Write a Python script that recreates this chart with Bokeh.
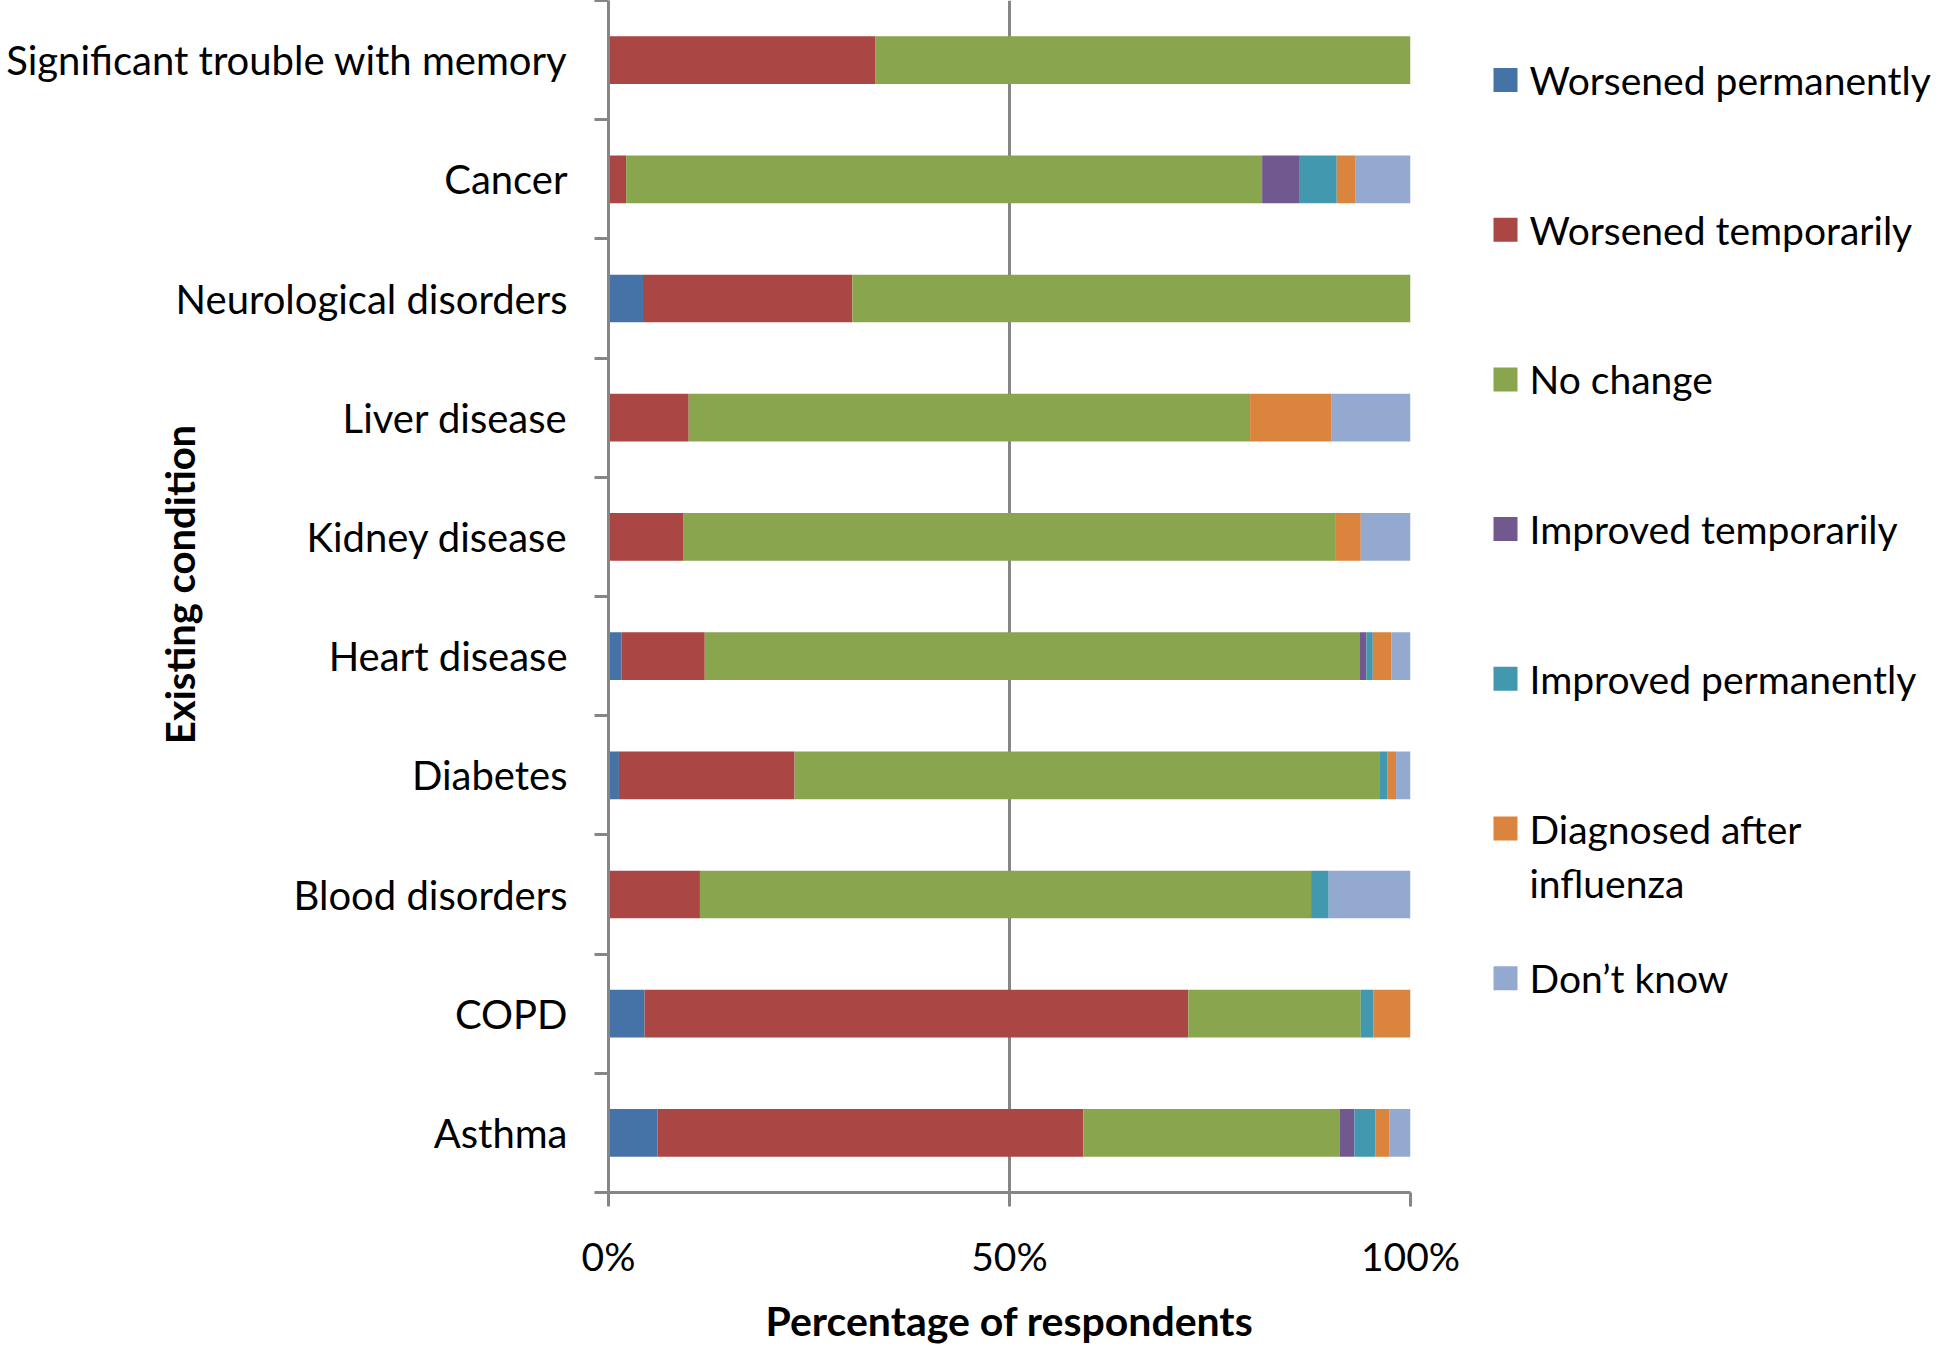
import math
from bokeh.plotting import figure
from bokeh.models import ColumnDataSource, Range1d, FixedTicker
from bokeh.layouts import row
from bokeh.core.properties import value
from bokeh.embed import file_html
from bokeh.resources import INLINE

# ---------------- data (top to bottom as shown) ----------------
conditions = ["Significant trouble with memory", "Cancer", "Neurological disorders",
              "Liver disease", "Kidney disease", "Heart disease", "Diabetes",
              "Blood disorders", "COPD", "Asthma"]

series_names = ["Worsened permanently", "Worsened temporarily", "No change",
                "Improved temporarily", "Improved permanently",
                "Diagnosed after\ninfluenza", "Don\u2019t know"]

worsened_perm = [0.0, 0.0, 4.3, 0.0, 0.0, 1.6, 1.3, 0.0, 4.5, 6.1]
worsened_temp = [33.3, 2.2, 26.1, 10.0, 9.3, 10.4, 21.9, 11.4, 67.8, 53.1]
no_change     = [66.7, 79.3, 69.6, 70.0, 81.3, 81.7, 73.0, 76.2, 21.5, 32.0]
improved_temp = [0.0, 4.6, 0.0, 0.0, 0.0, 0.8, 0.0, 0.0, 0.0, 1.8]
improved_perm = [0.0, 4.7, 0.0, 0.0, 0.0, 0.8, 0.9, 2.2, 1.6, 2.6]
diagnosed     = [0.0, 2.3, 0.0, 10.1, 3.2, 2.3, 1.1, 0.0, 4.6, 1.8]
dont_know     = [0.0, 6.9, 0.0, 9.9, 6.2, 2.4, 1.8, 10.2, 0.0, 2.6]

x_ticks = [0, 50, 100]
x_tick_labels = ["0%", "50%", "100%"]

y_title = "Existing condition"
x_title = "Percentage of respondents"

colors = ["#4572A7", "#AA4643", "#89A54E", "#71588F", "#4198AF", "#DB843D", "#93A9CF"]

# ---------------- layout constants ----------------
FONT = "Lato"
GRAY = "#868686"
FRAME_W, FRAME_H = 802, 1192
TOP, BOTTOM = 0, 138
H = FRAME_H + TOP + BOTTOM
LABEL_W = 568          # panel holding the category names and the y title
AXIS_BORDER = 40       # main figure's own left border (tick marks, "0%")
n = len(conditions)

keys = ["wp", "wt", "nc", "it", "ip", "dg", "dk"]
cols = [worsened_perm, worsened_temp, no_change, improved_temp, improved_perm, diagnosed, dont_know]
data = {k: v for k, v in zip(keys, cols)}
data["y"] = [n - 0.5 - i for i in range(n)]
data["cond"] = conditions
source = ColumnDataSource(data)

y_range = Range1d(0, n)

# ---------------- main chart ----------------
p = figure(frame_width=FRAME_W, frame_height=FRAME_H,
           x_range=Range1d(0, 100), y_range=y_range,
           output_backend="svg", toolbar_location=None,
           min_border_left=AXIS_BORDER, min_border_right=60,
           min_border_top=TOP, min_border_bottom=BOTTOM)
p.outline_line_color = None
p.background_fill_color = "white"

p.hbar_stack(keys, y="y", height=0.4, color=colors, line_color=None, source=source)

# x axis
p.xaxis.ticker = FixedTicker(ticks=x_ticks)
p.xaxis.major_label_overrides = {t: l for t, l in zip(x_ticks, x_tick_labels)}
p.xaxis.minor_tick_line_color = None
p.xaxis.major_tick_in = 0
p.xaxis.major_tick_out = 14
p.xaxis.major_tick_line_color = GRAY
p.xaxis.major_tick_line_width = 3
p.xaxis.axis_line_color = GRAY
p.xaxis.axis_line_width = 3
p.xaxis.major_label_text_font = FONT
p.xaxis.major_label_text_font_size = "39px"
p.xaxis.major_label_text_color = "black"
p.xaxis.major_label_standoff = 26
p.xaxis.axis_label = x_title
p.xaxis.axis_label_text_font = FONT
p.xaxis.axis_label_text_font_style = "bold"
p.xaxis.axis_label_text_font_size = "41px"
p.xaxis.axis_label_text_color = "black"
p.xaxis.axis_label_standoff = 14

# y axis: only the line and tick marks at band boundaries (minor ticks -> no labels)
bounds = [float(i) for i in range(n + 1)]
p.yaxis.ticker = FixedTicker(ticks=[], minor_ticks=bounds)
p.yaxis.major_tick_line_color = None
p.yaxis.minor_tick_line_color = GRAY
p.yaxis.minor_tick_line_width = 3
p.yaxis.minor_tick_out = 14
p.yaxis.minor_tick_in = 0
p.yaxis.axis_line_color = GRAY
p.yaxis.axis_line_width = 3

p.xgrid.grid_line_color = GRAY
p.xgrid.grid_line_width = 3
p.ygrid.grid_line_color = None

# ---------------- left panel: category names + y title ----------------
lp = figure(frame_width=LABEL_W, frame_height=FRAME_H,
            x_range=Range1d(0, LABEL_W), y_range=y_range,
            output_backend="svg", toolbar_location=None,
            min_border_left=0, min_border_right=0,
            min_border_top=TOP, min_border_bottom=BOTTOM)
lp.outline_line_color = None
lp.axis.visible = False
lp.grid.visible = False
lp.text(x=LABEL_W - 1, y="y", text="cond", source=source,
        text_font=value(FONT), text_font_size=value("40px"),
        text_align="right", text_baseline="middle", text_color="black")
title_px_x, title_px_y = 179, 584          # centre, px from the panel's top-left
lp.text(x=[title_px_x], y=[n - title_px_y / FRAME_H * n], text=[y_title],
        angle=math.pi / 2, text_font=value(FONT), text_font_style="bold",
        text_font_size=value("40px"), text_align="center", text_baseline="middle",
        text_color="black")

# ---------------- legend panel ----------------
LW = 468
lg = figure(frame_width=LW, frame_height=FRAME_H,
            x_range=Range1d(0, LW), y_range=Range1d(BOTTOM, H),
            output_backend="svg", toolbar_location=None,
            min_border_left=0, min_border_right=0,
            min_border_top=TOP, min_border_bottom=BOTTOM)
lg.outline_line_color = None
lg.axis.visible = False
lg.grid.visible = False

first_y, pitch, line_pitch = 79.5, 149.7, 54
sq_x, sq_w, txt_x = 35, 24, 59
sq = {"x": [], "y": [], "c": []}
tx = {"x": [], "y": [], "t": []}
for i, (name, c) in enumerate(zip(series_names, colors)):
    yc = H - (first_y + i * pitch)
    sq["x"].append(sq_x); sq["y"].append(yc); sq["c"].append(c)
    for j, line in enumerate(name.split("\n")):
        tx["x"].append(txt_x); tx["y"].append(yc - j * line_pitch); tx["t"].append(line)
lg.rect(x="x", y="y", width=sq_w, height=sq_w, color="c", line_color=None,
        source=ColumnDataSource(sq))
lg.text(x="x", y="y", text="t", text_font=value(FONT), text_font_size=value("39px"),
        text_baseline="middle", text_align="left", text_color="black",
        source=ColumnDataSource(tx))

layout = row(lp, p, lg, spacing=0)
open("out.html", "w").write(file_html(layout, INLINE))
